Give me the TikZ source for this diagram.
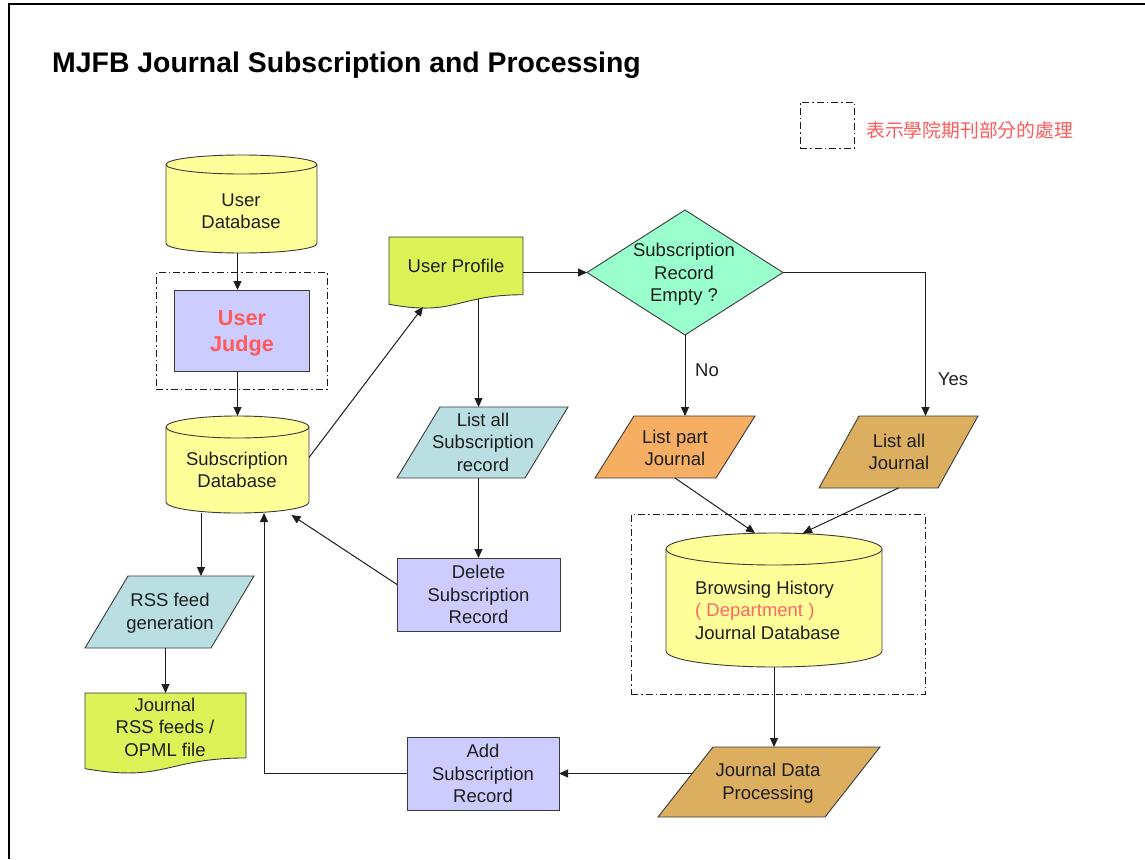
\documentclass[tikz,border=0pt]{standalone}
\usepackage{fontspec}
\setmainfont{Liberation Sans}
\newfontfamily\cjkfont{Noto Sans CJK TC}
\usetikzlibrary{arrows.meta}

\definecolor{cDb}{HTML}{FFFF99}
\definecolor{cLav}{HTML}{CCCCFF}
\definecolor{cIce}{HTML}{B9DFE3}
\definecolor{cLime}{HTML}{DDF257}
\definecolor{cMint}{HTML}{99FFCC}
\definecolor{cOrange}{HTML}{F5AE62}
\definecolor{cTan}{HTML}{DBAE60}
\definecolor{cRed}{HTML}{FF5A5A}
\definecolor{cInk}{HTML}{1E1E1E}
\definecolor{cEdge}{HTML}{3A3A3A}

\tikzset{
  frame/.style={inner sep=0pt, outer sep=0pt, draw=none},
  outline/.style={draw=cEdge, line width=0.9pt},
  rectbox/.style={outline, inner sep=0pt, outer sep=0pt, align=center, text=cInk,
    font=\fontsize{18.5}{22.5}\selectfont},
  txt/.style={align=center, text=cInk, font=\fontsize{18.5}{22.5}\selectfont, inner sep=0pt},
  arr/.style={draw=cInk, line width=1pt, -{Triangle[length=9pt,width=8pt]}},
  groupbox/.style={draw=cInk, line width=0.9pt, inner sep=0pt, outer sep=0pt,
    dash pattern=on 7pt off 3pt on 1.5pt off 3pt},
}

% cylinder (database): name, cx, cy, width, height, ry
\newcommand\cylshape[6]{%
  \node[frame, minimum width=#4pt, minimum height=#5pt] (#1) at (#2,#3) {};
  \pgfmathsetmacro\halfw{#4/2}
  \filldraw[outline, fill=cDb] ([yshift=-#6pt]#1.north west) -- ([yshift=#6pt]#1.south west)
    arc[start angle=180, end angle=360, x radius=\halfw pt, y radius=#6pt]
    -- ([yshift=-#6pt]#1.north east)
    arc[start angle=0, end angle=180, x radius=\halfw pt, y radius=#6pt] -- cycle;
  \draw[outline] ([yshift=-#6pt]#1.north west)
    arc[start angle=180, end angle=360, x radius=\halfw pt, y radius=#6pt];
}
% document with wavy bottom: name, cx, cy, width, height, fill
\newcommand\docshape[6]{%
  \node[frame, minimum width=#4pt, minimum height=#5pt] (#1) at (#2,#3) {};
  \filldraw[outline, fill=#6] (#1.north west) -- (#1.north east)
    -- ([yshift=0.198*#5pt]#1.south east)
    .. controls ([xshift=-0.5*#4pt, yshift=0.198*#5pt]#1.south east)
       and ([xshift=-0.5*#4pt, yshift=-0.107*#5pt]#1.south east)
    .. ([yshift=0.066*#5pt]#1.south west) -- cycle;
}
% parallelogram: name, cx, cy, width, height, slant, fill
\newcommand\parashape[7]{%
  \node[frame, minimum width=#4pt, minimum height=#5pt] (#1) at (#2,#3) {};
  \filldraw[outline, fill=#7] ([xshift=#6pt]#1.north west) -- (#1.north east)
    -- ([xshift=-#6pt]#1.south east) -- (#1.south west) -- cycle;
}

\begin{document}
\begin{tikzpicture}[x=1pt, y=-1pt]
\useasboundingbox (0,0) rectangle (1145,859);

% page frame (top and left edges)
\draw[line width=2pt, black] (8.7,859) -- (8.7,4.5) -- (1145,4.5);

% title and legend
\node[anchor=base west, inner sep=0pt, text=black, font=\fontsize{28.4}{34}\bfseries\selectfont]
  (title) at (52,73) {MJFB Journal Subscription and Processing};
\node[groupbox, minimum width=54pt, minimum height=46pt] (legendbox) at (827,125) {};
\node[anchor=west, inner sep=0pt, text=cRed, font=\cjkfont\fontsize{18.8}{22}\selectfont]
  (legendtext) at (866,130) {表示學院期刊部分的處理};

% dash-dot groups
\node[groupbox, minimum width=171pt, minimum height=117pt] (ujgroup) at (241.5,330.5) {};
\node[groupbox, minimum width=294pt, minimum height=180pt] (jdbgroup) at (778,604) {};

% left column
\cylshape{udb}{241.5}{204}{151}{98}{9.5}
\node[txt] (udbT) at (241,211) {User\\Database};

\node[rectbox, fill=cLav, minimum width=135pt, minimum height=81pt] (uj) at (241.5,330.5) {};
\node[txt, text=cRed, font=\fontsize{21.6}{26}\bfseries\selectfont] (ujT) at (242,333)
  {User\\Judge};

\cylshape{subdb}{237.5}{464.5}{143}{97}{11}
\node[txt] (subdbT) at (237,470) {Subscription\\Database};

\parashape{rss}{169.5}{612}{169}{72}{43}{cIce}
\node[txt] (rssT) at (170,613) {RSS feed\\generation};

\docshape{rssdoc}{165.5}{733.5}{161}{81}{cLime}
\node[txt] (rssdocT) at (165,727) {Journal\\RSS feeds /\\OPML file};

% middle column
\docshape{up}{456}{273}{134}{72}{cLime}
\node[txt] (upT) at (456,266) {User Profile};

\parashape{las}{482.5}{442.5}{171}{71}{43}{cIce}
\node[txt] (lasT) at (483,442) {List all\\Subscription\\record};

\node[rectbox, fill=cLav, minimum width=163pt, minimum height=73pt] (del) at (478.5,594.5)
  {Delete\\Subscription\\Record};
\node[rectbox, fill=cLav, minimum width=152pt, minimum height=73pt] (add) at (483,773.5)
  {Add\\Subscription\\Record};

% decision
\node[frame, minimum width=196pt, minimum height=125pt] (dec) at (685,272.5) {};
\filldraw[outline, fill=cMint] (dec.west) -- (dec.north) -- (dec.east) -- (dec.south) -- cycle;
\node[txt] (decT) at (684,274.5) {Subscription\\Record\\Empty ?};

% right column
\parashape{lpj}{675}{447}{160}{62}{39}{cOrange}
\node[txt] (lpjT) at (675,448) {List part\\Journal};
\parashape{laj}{898.5}{452}{159}{72}{40}{cTan}
\node[txt] (lajT) at (899,452) {List all\\Journal};

\cylshape{jdb}{774}{600}{216}{134}{16}
\node[txt, anchor=west, align=left] (jdbT) at (695,610)
  {Browsing History\\{\color[HTML]{FF6666}( Department )}\\Journal Database};

\parashape{jdp}{769}{782}{222}{70}{55}{cTan}
\node[txt] (jdpT) at (768,783) {Journal Data\\Processing};

% connectors
\draw[arr] (udb.south -| subdb.north) -- (uj.north -| subdb.north);
\draw[arr] (uj.south -| subdb.north) -- (subdb.north);
\draw[arr] ([yshift=7pt]subdb.east) -- ([xshift=-33pt, yshift=2pt]up.south);
\draw[arr] (dec.west -| up.east) -- (dec.west);
\draw[arr] ([yshift=10pt]up.south -| del.north) -- (las.north -| del.north);
\draw[arr] (las.south -| del.north) -- (del.north);
\draw[arr] ([yshift=10pt]del.west) -- ([xshift=54pt, yshift=-2pt]subdb.south);
\draw[arr] (add.west) -| ([xshift=26.5pt]subdb.south);
\draw[arr] ([xshift=-36.5pt]subdb.south) -- ([xshift=-36.5pt]subdb.south |- rss.north);
\draw[arr] (rss.south -| rssdoc.north) -- (rssdoc.north);

\draw[arr] (dec.south) -- (dec.south |- lpj.north);
\node[txt] (no) at (707,370) {No};
\draw[arr] (dec.east) -| ([xshift=27pt]laj.north);
\node[txt] (yes) at (953,379) {Yes};

\draw[arr] (lpj.south) -- ([xshift=-19pt]jdb.north);
\draw[arr] (laj.south) -- ([xshift=29pt]jdb.north);
\draw[arr] (jdb.south) -- (jdb.south |- jdp.north);
\coordinate (jdpin) at ([xshift=34pt]jdp.west);
\draw[arr] (jdpin |- add.east) -- (add.east);

\end{tikzpicture}
\end{document}
